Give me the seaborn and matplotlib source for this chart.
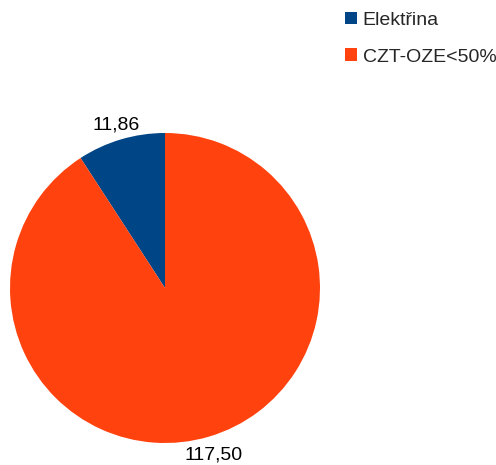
import matplotlib
matplotlib.use('Agg')
import matplotlib.pyplot as plt
import seaborn as sns
from matplotlib.patches import Patch

categories = ['Elektřina', 'CZT-OZE<50%']
values = [11.86, 117.50]
colors = ['#004586', '#ff420e']

sns.set_theme(style='white')
plt.rcParams['font.family'] = ['Liberation Sans', 'DejaVu Sans']

W, H = 496, 465
fig = plt.figure(figsize=(W / 100, H / 100), dpi=100)
ax = fig.add_axes([10 / W, (H - 443) / H, 310 / W, 310 / H])

labels = [f'{v:.2f}'.replace('.', ',') for v in values]
wedges, texts = ax.pie(values, colors=colors, startangle=90, counterclock=True,
                       labels=labels, labeldistance=1.11,
                       wedgeprops={'linewidth': 0},
                       textprops={'fontsize': 14, 'color': 'black'})
for t in texts:
    t.set_ha('center')
    t.set_va('center_baseline')
ax.set_xlim(-1, 1)
ax.set_ylim(-1, 1)
ax.set_aspect('equal')

handles = [Patch(facecolor=c, edgecolor='none') for c in colors]
fig.legend(handles, categories, loc='upper left', bbox_to_anchor=(345 / W, 1 - 12 / H),
           frameon=False, fontsize=14, handlelength=0.6, handleheight=0.6,
           handletextpad=0.3, labelspacing=1.0, borderpad=0, borderaxespad=0)

fig.savefig('out.png', dpi=100)
